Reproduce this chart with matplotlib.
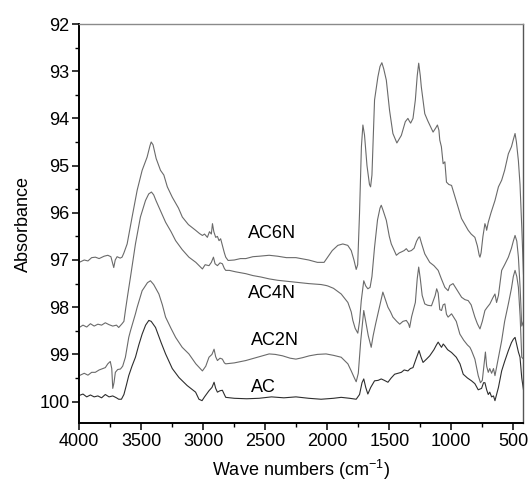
import matplotlib
matplotlib.use("Agg")
import matplotlib.pyplot as plt
from matplotlib.ticker import MultipleLocator

plt.rcParams['font.family'] = ['Liberation Sans', 'DejaVu Sans']
plt.rcParams['mathtext.default'] = 'regular'

# FTIR spectra: (wavenumber cm-1, absorbance) pairs for each sample
AC6N = [(4000, 97.05), (3960, 97.0), (3930, 97.02), (3900, 96.95), (3870, 96.94), (3840, 96.97),
        (3800, 96.92), (3770, 96.9), (3745, 96.93), (3730, 97.08), (3722, 97.16), (3710, 97.0),
        (3695, 96.93), (3670, 96.96), (3655, 96.94), (3640, 96.85), (3614, 96.66), (3574, 96.09),
        (3533, 95.52), (3493, 95.1), (3453, 94.82), (3430, 94.58), (3420, 94.5), (3405, 94.56),
        (3380, 94.85), (3345, 95.1), (3318, 95.2), (3290, 95.45), (3250, 95.67), (3200, 95.9),
        (3169, 96.09), (3120, 96.25), (3062, 96.37), (3030, 96.44), (3007, 96.48), (2990, 96.45),
        (2967, 96.52), (2950, 96.4), (2935, 96.45), (2926, 96.23), (2915, 96.4), (2900, 96.52),
        (2886, 96.5), (2873, 96.59), (2860, 96.55), (2846, 96.69), (2830, 96.85), (2819, 96.94),
        (2800, 97.01), (2750, 97.0), (2700, 96.97), (2657, 96.97), (2600, 96.93), (2550, 96.92),
        (2469, 96.9), (2400, 96.92), (2330, 96.95), (2253, 96.95), (2150, 97.0), (2080, 97.05),
        (2026, 97.05), (2000, 96.95), (1960, 96.8), (1915, 96.69), (1875, 96.66), (1835, 96.69),
        (1807, 96.8), (1785, 97.0), (1767, 97.2), (1755, 97.1), (1740, 96.0), (1725, 94.6),
        (1713, 94.14), (1700, 94.35), (1680, 95.0), (1660, 95.4), (1651, 95.45), (1640, 95.2),
        (1619, 93.61), (1592, 93.12), (1575, 92.9), (1560, 92.82), (1545, 92.95), (1524, 93.19),
        (1498, 93.83), (1471, 94.32), (1439, 94.52), (1403, 94.36), (1371, 94.07), (1350, 94.0),
        (1340, 94.05), (1328, 94.1), (1309, 94.0), (1290, 93.61), (1275, 93.1), (1263, 92.83),
        (1250, 93.1), (1242, 93.33), (1214, 93.9), (1190, 94.05), (1174, 94.14), (1147, 94.29),
        (1125, 94.2), (1112, 94.14), (1100, 94.25), (1093, 94.46), (1080, 94.6), (1066, 94.96),
        (1052, 94.92), (1039, 95.35), (1020, 95.4), (998, 95.42), (960, 95.75), (918, 96.12),
        (890, 96.25), (864, 96.37), (840, 96.45), (810, 96.52), (790, 96.7), (775, 96.9),
        (769, 96.94), (760, 96.85), (745, 96.5), (729, 96.23), (720, 96.3), (715, 96.37),
        (702, 96.2), (680, 96.0), (648, 95.74), (620, 95.45), (594, 95.31), (570, 95.1),
        (540, 94.75), (515, 94.6), (500, 94.45), (486, 94.32), (475, 94.5), (459, 94.9),
        (446, 95.4), (432, 96.3), (418, 97.3)]

AC4N = [(4000, 98.43), (3970, 98.38), (3940, 98.42), (3910, 98.35), (3880, 98.4), (3850, 98.36),
        (3820, 98.38), (3790, 98.33), (3760, 98.37), (3730, 98.4), (3700, 98.38), (3682, 98.43),
        (3655, 98.35), (3640, 98.3), (3628, 98.07), (3610, 97.75), (3587, 97.36), (3547, 96.66),
        (3507, 96.09), (3466, 95.74), (3440, 95.6), (3418, 95.56), (3400, 95.62), (3380, 95.75),
        (3358, 95.88), (3330, 96.05), (3304, 96.2), (3260, 96.4), (3223, 96.59), (3170, 96.78),
        (3116, 96.94), (3060, 97.05), (3007, 97.19), (2985, 97.1), (2954, 97.12), (2935, 97.05),
        (2918, 96.94), (2905, 97.08), (2886, 97.12), (2865, 97.06), (2846, 97.08), (2830, 97.18),
        (2819, 97.22), (2790, 97.22), (2740, 97.25), (2657, 97.29), (2600, 97.33), (2536, 97.36),
        (2469, 97.4), (2400, 97.43), (2330, 97.45), (2253, 97.47), (2150, 97.5), (2050, 97.52),
        (2010, 97.54), (1996, 97.55), (1950, 97.6), (1888, 97.72), (1834, 97.9), (1807, 98.1),
        (1794, 98.28), (1775, 98.45), (1754, 98.55), (1740, 98.3), (1726, 97.86), (1706, 97.44),
        (1690, 97.55), (1673, 97.61), (1655, 97.58), (1640, 97.35), (1619, 96.73), (1595, 96.15),
        (1575, 95.9), (1565, 95.84), (1550, 95.95), (1524, 96.16), (1500, 96.5), (1484, 96.66),
        (1460, 96.8), (1443, 96.9), (1420, 96.85), (1403, 96.83), (1380, 96.8), (1363, 96.76),
        (1345, 96.82), (1322, 96.8), (1300, 96.75), (1280, 96.6), (1263, 96.52), (1255, 96.51),
        (1240, 96.65), (1214, 96.87), (1190, 96.98), (1174, 97.05), (1140, 97.12), (1106, 97.22),
        (1080, 97.4), (1052, 97.58), (1026, 97.65), (1012, 97.54), (986, 97.5), (950, 97.65),
        (917, 97.79), (890, 97.84), (864, 97.86), (840, 97.95), (810, 98.21), (790, 98.35),
        (769, 98.46), (750, 98.3), (729, 98.07), (710, 98.0), (689, 97.93), (665, 97.8),
        (648, 97.72), (635, 97.9), (620, 97.75), (594, 97.22), (570, 97.1), (540, 96.94),
        (515, 96.75), (500, 96.6), (486, 96.48), (472, 96.6), (459, 96.94), (445, 97.6),
        (432, 98.4), (418, 98.3)]

AC2N = [(4000, 99.45), (3960, 99.4), (3930, 99.44), (3900, 99.38), (3871, 99.38), (3840, 99.33),
        (3810, 99.3), (3790, 99.28), (3770, 99.2), (3750, 99.15), (3738, 99.3), (3730, 99.72),
        (3720, 99.6), (3709, 99.38), (3690, 99.32), (3668, 99.31), (3650, 99.25), (3628, 99.06),
        (3601, 98.64), (3587, 98.5), (3547, 98.14), (3533, 98.0), (3493, 97.65), (3480, 97.6),
        (3450, 97.48), (3426, 97.44), (3400, 97.52), (3358, 97.72), (3330, 97.95), (3304, 98.21),
        (3260, 98.45), (3223, 98.64), (3170, 98.85), (3116, 98.99), (3060, 99.2), (3007, 99.35),
        (2980, 99.25), (2954, 99.06), (2930, 99.0), (2913, 98.89), (2900, 99.05), (2886, 99.13),
        (2865, 99.08), (2846, 99.1), (2830, 99.18), (2819, 99.2), (2750, 99.18), (2657, 99.13),
        (2550, 99.05), (2469, 98.99), (2420, 99.0), (2361, 99.03), (2300, 99.08), (2253, 99.1),
        (2200, 99.07), (2145, 99.03), (2080, 99.0), (2010, 98.99), (1950, 99.02), (1888, 99.06),
        (1834, 99.2), (1807, 99.35), (1785, 99.48), (1767, 99.58), (1750, 99.4), (1730, 98.7),
        (1706, 98.07), (1690, 98.3), (1670, 98.6), (1646, 98.85), (1630, 98.6), (1610, 98.35),
        (1592, 98.14), (1552, 97.68), (1530, 97.85), (1511, 98.0), (1490, 98.1), (1471, 98.21),
        (1440, 98.3), (1416, 98.36), (1390, 98.3), (1363, 98.28), (1345, 98.35), (1336, 98.43),
        (1320, 98.2), (1290, 97.9), (1275, 97.4), (1263, 97.15), (1250, 97.4), (1235, 97.75),
        (1214, 97.93), (1190, 97.96), (1160, 97.97), (1130, 97.75), (1118, 97.61), (1106, 97.7),
        (1093, 98.05), (1079, 98.07), (1066, 97.95), (1052, 97.93), (1039, 98.15), (1026, 98.21),
        (998, 98.14), (960, 98.3), (931, 98.57), (900, 98.7), (870, 98.8), (850, 98.85),
        (837, 98.92), (810, 99.1), (783, 99.45), (765, 99.6), (750, 99.55), (735, 99.2),
        (725, 98.95), (715, 99.25), (702, 99.38), (690, 99.3), (675, 99.4), (660, 99.3),
        (648, 99.45), (630, 99.2), (594, 98.71), (570, 98.3), (540, 97.93), (515, 97.6),
        (500, 97.35), (486, 97.22), (472, 97.35), (459, 97.58), (445, 98.2), (432, 99.06),
        (418, 99.1)]

AC = [(4000, 99.87), (3970, 99.84), (3940, 99.9), (3910, 99.86), (3880, 99.9), (3850, 99.88),
      (3820, 99.92), (3790, 99.85), (3760, 99.9), (3730, 99.88), (3700, 99.92), (3682, 99.95),
      (3660, 99.95), (3640, 99.85), (3620, 99.65), (3601, 99.45), (3575, 99.25), (3547, 99.06),
      (3520, 98.8), (3493, 98.57), (3465, 98.38), (3439, 98.28), (3420, 98.3), (3385, 98.43),
      (3340, 98.75), (3304, 98.99), (3250, 99.3), (3196, 99.49), (3130, 99.66), (3062, 99.8),
      (3035, 99.95), (3010, 99.98), (2990, 99.9), (2954, 99.77), (2930, 99.7), (2913, 99.59),
      (2900, 99.72), (2886, 99.8), (2865, 99.77), (2846, 99.76), (2830, 99.85), (2819, 99.91),
      (2750, 99.93), (2650, 99.94), (2550, 99.93), (2450, 99.9), (2350, 99.92), (2253, 99.9),
      (2150, 99.93), (2050, 99.95), (1950, 99.93), (1888, 99.91), (1820, 99.93), (1767, 99.95),
      (1740, 99.85), (1720, 99.6), (1706, 99.52), (1690, 99.7), (1673, 99.84), (1650, 99.7),
      (1619, 99.56), (1590, 99.55), (1565, 99.52), (1540, 99.55), (1511, 99.59), (1485, 99.5),
      (1457, 99.42), (1430, 99.4), (1403, 99.38), (1380, 99.33), (1350, 99.35), (1330, 99.3),
      (1309, 99.28), (1285, 99.1), (1260, 98.92), (1245, 99.05), (1228, 99.17), (1200, 99.1),
      (1174, 99.03), (1140, 98.9), (1120, 98.8), (1106, 98.74), (1092, 98.8), (1079, 98.85),
      (1065, 98.78), (1052, 98.82), (1030, 98.9), (998, 98.96), (960, 99.06), (930, 99.2),
      (904, 99.42), (870, 99.5), (837, 99.56), (810, 99.62), (783, 99.75), (756, 99.72),
      (740, 99.6), (729, 99.6), (715, 99.75), (702, 99.85), (690, 99.8), (675, 99.9),
      (660, 99.88), (648, 99.98), (635, 99.85), (620, 99.7), (594, 99.35), (570, 99.15),
      (540, 98.92), (515, 98.75), (500, 98.68), (486, 98.64), (472, 98.8), (459, 98.95),
      (446, 99.06), (432, 99.5), (418, 99.75)]

series_names = ["AC6N", "AC4N", "AC2N", "AC"]
series_data = [AC6N, AC4N, AC2N, AC]
series_colors = ["#6a6a6a", "#6a6a6a", "#6a6a6a", "#2e2e2e"]

# text labels placed next to each trace: (wavenumber, absorbance)
label_pos = [(2643, 96.44), (2643, 97.70), (2617, 98.71), (2617, 99.70)]

fig = plt.figure(figsize=(5.32, 4.84), dpi=100)
ax = fig.add_axes([0.149, 0.1254, 0.835, 0.825])

for name, data, color in zip(series_names, series_data, series_colors):
    wn = [p[0] for p in data]
    ab = [p[1] for p in data]
    ax.plot(wn, ab, color=color, lw=0.8)

for name, (x, y) in zip(series_names, label_pos):
    ax.text(x, y, name, fontsize=13, ha='left', va='center', color='black')

ax.set_xlim(4000, 418)
ax.set_ylim(100.46, 92)

ax.xaxis.set_major_locator(MultipleLocator(500))
ax.xaxis.set_minor_locator(MultipleLocator(250))
ax.yaxis.set_major_locator(MultipleLocator(1))
ax.yaxis.set_minor_locator(MultipleLocator(0.5))
ax.xaxis.set_major_formatter(plt.FuncFormatter(lambda v, p: f"{int(v)}"))
ax.yaxis.set_major_formatter(plt.FuncFormatter(lambda v, p: f"{int(v)}"))

ax.tick_params(which='major', direction='out', length=5, width=1.1, labelsize=13, pad=2)
ax.tick_params(which='minor', direction='out', length=3, width=1.0)
ax.tick_params(top=False, right=False, which='both')

for side in ['left', 'bottom']:
    ax.spines[side].set_linewidth(1.4)
    ax.spines[side].set_color('black')
ax.spines['top'].set_color('#8a8a8a')
ax.spines['top'].set_linewidth(1.0)
ax.spines['right'].set_color('#555555')
ax.spines['right'].set_linewidth(1.0)

ax.set_xlabel("Wave numbers (cm$^{-1}$)", fontsize=13, labelpad=6)
ax.set_ylabel("Absorbance", fontsize=13, labelpad=5)

fig.savefig("out.png", dpi=100)
